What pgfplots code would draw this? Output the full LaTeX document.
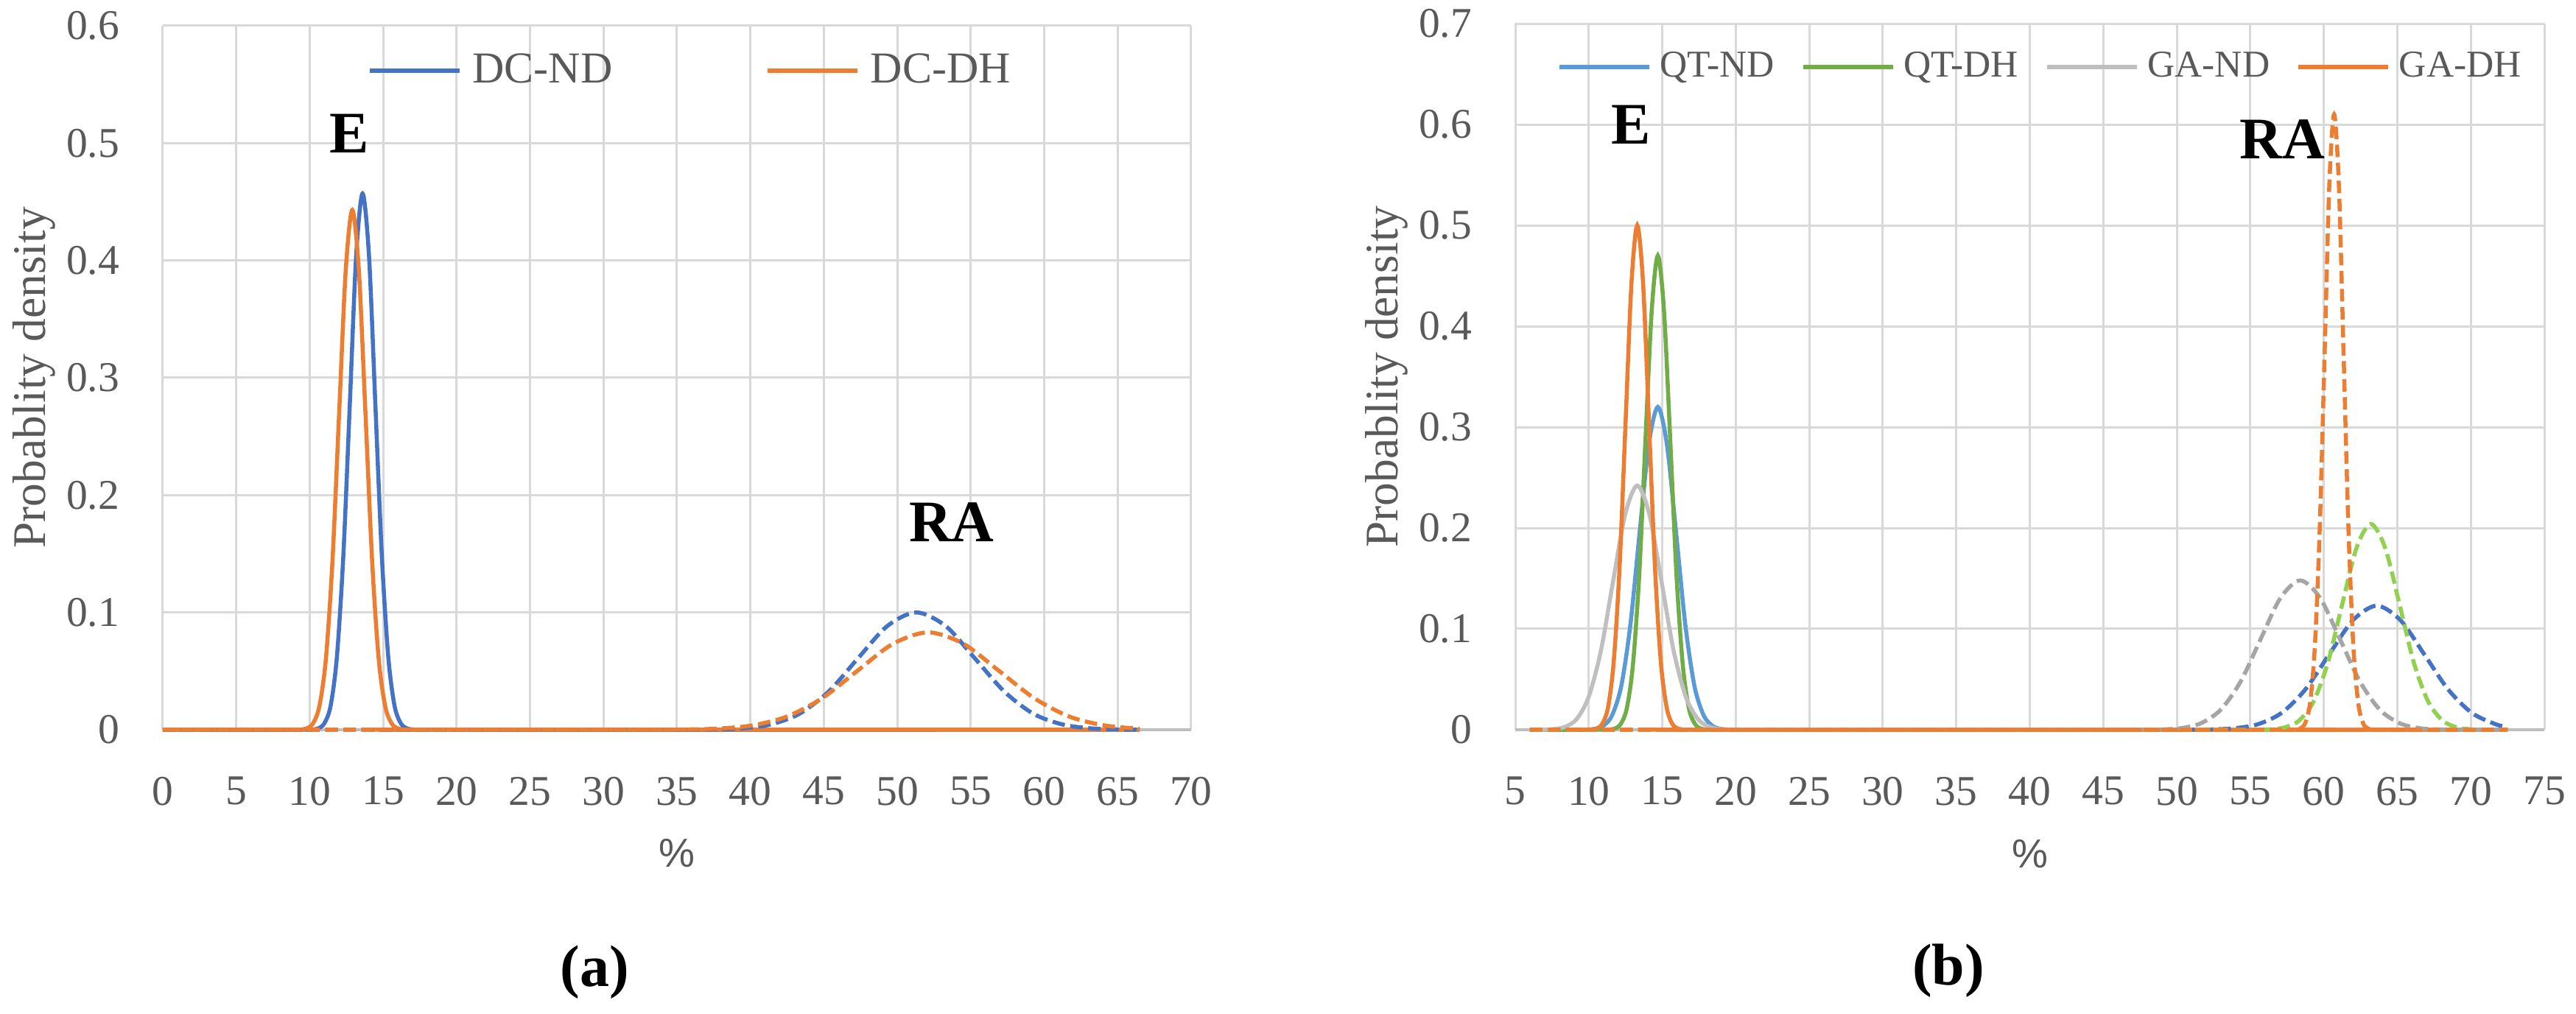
\documentclass[border=0pt]{standalone}
\usepackage{fontspec}
\setmainfont{Liberation Serif}
\newfontfamily\sansf{Liberation Sans}
\usepackage{pgfplots}
\pgfplotsset{compat=1.18}

\definecolor{cblue}{HTML}{4472C4}
\definecolor{corange}{HTML}{ED7D31}
\definecolor{clblue}{HTML}{5B9BD5}
\definecolor{cgreen}{HTML}{70AD47}
\definecolor{clgreen}{HTML}{92D050}
\definecolor{cgray}{HTML}{BFBFBF}
\definecolor{cdgray}{HTML}{A5A5A5}
\definecolor{gridc}{HTML}{D9D9D9}
\definecolor{axgray}{HTML}{BFBFBF}
\definecolor{txt}{HTML}{595959}

\tikzset{
  dsh/.style={dash pattern=on 3.4pt off 1.5pt},
  lab/.style={font=\fontsize{16}{18}\selectfont\bfseries, text=black},
}
\pgfplotsset{
  pdaxis/.style={
    scale only axis, clip=false,
    axis x line*=bottom, axis y line*=left,
    x axis line style={draw=axgray, line width=0.8pt},
    y axis line style={draw=none},
    xmajorgrids, ymajorgrids,
    grid style={draw=gridc, line width=0.6pt},
    major tick length=0pt,
    tick style={draw=none},
    /pgf/number format/assume math mode=true,
    ticklabel style={font=\fontsize{11.5}{13}\selectfont, text=txt, inner sep=0pt},
    yticklabel style={anchor=east, xshift=-11.6pt},
    xticklabel style={anchor=north, yshift=-12.6pt},
    xlabel={{\sansf\%}},
    xlabel style={at={(axis description cs:0.5,-0.1757)}, anchor=center,
      font=\fontsize{11}{13}\selectfont, text=txt},
    ylabel={Probablity density},
    ylabel style={at={(axis description cs:-0.1143,0.5)}, anchor=base,
      font=\fontsize{12.7}{15}\selectfont, text=txt},
    legend style={draw=none, fill=none, inner sep=0pt, outer sep=0pt,
      legend columns=-1, nodes={inner sep=0pt, text=txt}},
    legend image code/.code={\draw[##1] (0pt,0pt) -- (24.4pt,0pt);},
    every axis plot/.append style={line width=1.1pt, smooth},
  },
}

\begin{document}
\begin{tikzpicture}
\path[use as bounding box] (0,0) rectangle (699.4pt,275.4pt);

% (a) DC
\begin{axis}[pdaxis,
  at={(44.2pt,77.2pt)}, anchor=south west,
  width=279.2pt, height=191.2pt,
  xmin=0, xmax=70, ymin=0, ymax=0.6,
  xtick={0,5,...,70},
  ytick={0,0.1,0.2,0.3,0.4,0.5,0.6},
  legend style={at={(rel axis cs:0.1991,0.936)}, anchor=west,
    font=\fontsize{12}{14}\selectfont,
    /tikz/every odd column/.append style={column sep=3pt},
    /tikz/every even column/.append style={column sep=41.6pt}},
]
\addplot[cblue] coordinates {
  (0,0) (9.24,0) (10.11,0.0002) (10.54,0.0010) (10.98,0.0051) (11.42,0.0201)
  (11.85,0.0619) (12.29,0.1484) (12.73,0.2772) (13.16,0.4033) (13.60,0.4570)
  (14.04,0.4033) (14.47,0.2772) (14.91,0.1484) (15.35,0.0619) (15.78,0.0201)
  (16.22,0.0051) (16.66,0.0010) (17.09,0.0002) (17.97,0) (66.5,0)
};
\addlegendentry{DC-ND}
\addplot[corange] coordinates {
  (0,0) (8.40,0) (9.30,0.0001) (9.75,0.0010) (10.20,0.0049) (10.65,0.0195)
  (11.10,0.0600) (11.55,0.1438) (12.00,0.2687) (12.45,0.3909) (12.90,0.4430)
  (13.35,0.3909) (13.80,0.2687) (14.25,0.1438) (14.70,0.0600) (15.15,0.0195)
  (15.60,0.0049) (16.05,0.0010) (16.50,0.0001) (17.40,0) (66.5,0)
};
\addlegendentry{DC-DH}
\addplot[cblue, dsh, forget plot] coordinates {
  (0,0) (31.35,0) (35.34,0.0000) (37.34,0.0002) (39.33,0.0011) (41.33,0.0044)
  (43.32,0.0135) (45.32,0.0325) (47.31,0.0607) (49.31,0.0883) (51.30,0.1000)
  (53.30,0.0883) (55.29,0.0607) (57.29,0.0325) (59.28,0.0135) (61.28,0.0044)
  (63.27,0.0011) (65.27,0.0002) (66.5,0)
};
\addplot[corange, dsh, forget plot] coordinates {
  (0,0) (28.05,0) (32.86,0.0000) (35.27,0.0002) (37.67,0.0009) (40.08,0.0036)
  (42.48,0.0112) (44.89,0.0269) (47.29,0.0503) (49.70,0.0732) (52.10,0.0830)
  (54.51,0.0732) (56.91,0.0503) (59.32,0.0269) (61.72,0.0112) (64.13,0.0036)
  (66.50,0.0009)
};
\node[lab] at (axis cs:12.7,0.508) {E};
\node[lab] at (axis cs:53.7,0.177) {RA};
\node[lab] at (axis description cs:0.4198,-0.344) {(a)};
\end{axis}

% (b) QT / GA
\begin{axis}[pdaxis,
  at={(411.4pt,77.2pt)}, anchor=south west,
  width=279.4pt, height=191.8pt,
  xmin=5, xmax=75, ymin=0, ymax=0.7,
  xtick={5,10,...,75},
  ytick={0,0.1,0.2,0.3,0.4,0.5,0.6,0.7},
  legend style={at={(rel axis cs:0.0408,0.9385)}, anchor=west,
    font=\fontsize{10.3}{12}\selectfont,
    /tikz/every odd column/.append style={column sep=2.4pt},
    /tikz/every even column/.append style={column sep=7.2pt}},
]
\addplot[clblue] coordinates {
  (6,0) (8.47,0) (9.71,0.0001) (10.34,0.0007) (10.96,0.0036) (11.58,0.0141)
  (12.21,0.0433) (12.83,0.1039) (13.45,0.1941) (14.08,0.2824) (14.70,0.3200)
  (15.32,0.2824) (15.95,0.1941) (16.57,0.1039) (17.19,0.0433) (17.82,0.0141)
  (18.44,0.0036) (19.06,0.0007) (19.69,0.0001) (20.94,0) (72.5,0)
};
\addlegendentry{QT-ND}
\addplot[cgreen] coordinates {
  (6,0) (10.46,0) (11.30,0.0002) (11.73,0.0010) (12.15,0.0052) (12.58,0.0207)
  (13.00,0.0636) (13.43,0.1526) (13.85,0.2851) (14.28,0.4148) (14.70,0.4700)
  (15.12,0.4148) (15.55,0.2851) (15.97,0.1526) (16.40,0.0636) (16.82,0.0207)
  (17.25,0.0052) (17.67,0.0010) (18.10,0.0002) (18.95,0) (72.5,0)
};
\addlegendentry{QT-DH}
\addplot[cgray] coordinates {
  (6,0) (6.71,0.0001) (7.53,0.0005) (8.36,0.0027) (9.18,0.0106) (10.00,0.0328)
  (10.83,0.0786) (11.65,0.1468) (12.48,0.2136) (13.30,0.2420) (14.12,0.2136)
  (14.95,0.1468) (15.77,0.0786) (16.60,0.0328) (17.42,0.0106) (18.24,0.0027)
  (19.07,0.0005) (19.89,0.0001) (21.54,0) (72.5,0)
};
\addlegendentry{GA-ND}
\addplot[corange] coordinates {
  (9.31,0) (10.11,0.0002) (10.51,0.0011) (10.91,0.0056) (11.31,0.0220)
  (11.70,0.0677) (12.10,0.1623) (12.50,0.3033) (12.90,0.4413) (13.30,0.5000)
  (13.70,0.4413) (14.10,0.3033) (14.50,0.1623) (14.90,0.0677) (15.30,0.0220)
  (15.69,0.0056) (16.09,0.0011) (16.49,0.0002) (17.29,0) (72.5,0)
};
\addlegendentry{GA-DH}
\addplot[cblue, dsh, forget plot] coordinates {
  (6,0) (47.40,0) (50.64,0.0000) (52.26,0.0003) (53.88,0.0014) (55.50,0.0054)
  (57.12,0.0166) (58.74,0.0399) (60.36,0.0746) (61.98,0.1085) (63.60,0.1230)
  (65.22,0.1085) (66.84,0.0746) (68.46,0.0399) (70.08,0.0166) (71.70,0.0054)
  (72.50,0.0028)
};
\addplot[clgreen, dsh, forget plot] coordinates {
  (6,0) (53.42,0) (55.38,0.0001) (56.35,0.0004) (57.33,0.0023) (58.31,0.0090)
  (59.29,0.0276) (60.27,0.0662) (61.24,0.1237) (62.22,0.1800) (63.20,0.2040)
  (64.18,0.1800) (65.16,0.1237) (66.13,0.0662) (67.11,0.0276) (68.09,0.0090)
  (69.07,0.0023) (70.05,0.0004) (71.02,0.0001) (72.5,0)
};
\addplot[cdgray, dsh, forget plot] coordinates {
  (6,0) (44.90,0) (47.60,0.0000) (48.95,0.0003) (50.30,0.0016) (51.65,0.0065)
  (53.00,0.0200) (54.35,0.0480) (55.70,0.0898) (57.05,0.1306) (58.40,0.1480)
  (59.75,0.1306) (61.10,0.0898) (62.45,0.0480) (63.80,0.0200) (65.15,0.0065)
  (66.50,0.0016) (67.85,0.0003) (69.20,0.0000) (71.90,0) (72.5,0)
};
\addplot[corange, dsh, forget plot] coordinates {
  (6,0) (57.43,0) (58.08,0.0002) (58.41,0.0013) (58.74,0.0068) (59.07,0.0268)
  (59.39,0.0826) (59.72,0.1980) (60.05,0.3700) (60.37,0.5383) (60.70,0.6100)
  (61.03,0.5383) (61.35,0.3700) (61.68,0.1980) (62.01,0.0826) (62.34,0.0268)
  (62.66,0.0068) (62.99,0.0013) (63.32,0.0002) (63.97,0) (72.5,0)
};
\node[lab] at (axis cs:12.87,0.600) {E};
\node[lab] at (axis cs:57.2,0.585) {RA};
\node[lab] at (axis description cs:0.421,-0.341) {(b)};
\end{axis}
\end{tikzpicture}
\end{document}
